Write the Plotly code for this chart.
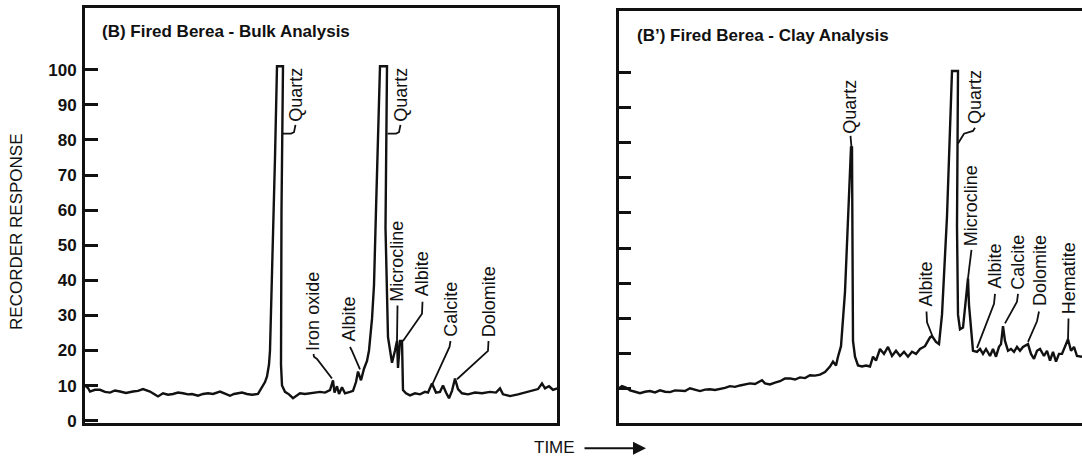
import plotly.graph_objects as go

W, H = 1082, 466

# ---------------- data (time in chart units, response in %) ----------------
bulk_time = [0, 3, 5, 10, 15, 20, 25, 30, 35, 41, 48, 53, 58, 62, 65, 69, 73, 78, 83, 88,
             93, 98, 103, 107, 113, 118, 123, 128, 132, 135, 140, 145, 149, 152, 157, 162,
             167, 173, 177, 180, 182, 184, 185, 187, 188, 190, 192, 198, 196.5, 196, 197,
             200, 204, 208, 211, 215, 220, 225, 230, 235, 240, 245, 248, 249.5, 252, 254,
             257, 260, 265, 268, 271, 273, 276, 279, 282, 284, 287, 289, 291, 295, 302,
             300.5, 303, 307, 310, 312, 313, 315, 317, 318, 321, 325, 330, 335, 340, 343,
             347, 351, 355, 358, 361, 364, 367, 370, 373, 377, 383, 390, 397, 405, 411,
             415, 418, 425, 433, 440, 447, 453, 457, 460, 464, 468, 472]
bulk_resp = [10.0, 9.3, 8.3, 8.8, 8.8, 8.2, 8.0, 8.6, 8.3, 7.9, 8.3, 8.5, 9.0, 8.6, 8.3,
             7.6, 6.9, 7.8, 7.4, 7.6, 8.0, 7.8, 7.5, 7.6, 7.1, 7.6, 7.8, 7.6, 8.0, 8.3, 7.7,
             7.1, 7.6, 7.8, 8.0, 7.6, 7.4, 7.6, 9.8, 11.0, 12.6, 16.0, 20.0, 38.0, 53.0,
             75.0, 101.0, 101.0, 60.0, 16.0, 10.0, 8.2, 7.5, 6.4, 7.0, 7.8, 7.6, 7.8, 8.0,
             8.2, 8.0, 8.7, 11.5, 8.0, 9.8, 7.6, 9.5, 7.8, 8.2, 8.5, 11.0, 14.0, 11.5, 14.8,
             17.0, 20.0, 29.0, 38.6, 60.0, 101.0, 101.0, 55.0, 23.8, 16.5, 20.0, 22.7, 15.0,
             22.7, 22.7, 8.7, 7.8, 7.2, 7.8, 7.5, 8.2, 8.0, 10.6, 8.0, 8.2, 10.0, 8.0, 6.4,
             8.5, 12.0, 9.0, 7.8, 7.5, 8.0, 7.8, 8.2, 8.0, 9.2, 7.5, 7.0, 7.5, 8.0, 8.5, 9.0,
             10.6, 9.2, 9.8, 8.8, 9.2]

clay_time = [0, 3, 7, 11, 16, 21, 26, 31, 36, 41, 46, 51, 56, 61, 66, 71, 76, 81, 86, 91,
             96, 101, 106, 111, 116, 121, 126, 131, 136, 143, 146, 151, 156, 161, 166, 171,
             176, 181, 186, 191, 196, 201, 206, 211, 214, 217, 219, 222, 226, 229, 232, 233,
             234, 236, 239, 243, 247, 251, 254, 257, 261, 265, 269, 273, 277, 281, 285, 289,
             293, 297, 301, 306, 311, 313, 317, 320, 323, 325, 328, 333, 339, 338, 339, 341,
             344, 347, 349, 350, 353, 354, 358, 361, 364, 367, 371, 374, 377, 380, 382, 384,
             386, 389, 392, 395, 398, 401, 404, 409, 412, 415, 418, 421, 425, 428, 431, 434,
             437, 440, 443, 446, 449, 452, 455, 458, 463]
clay_resp = [10.0, 10.6, 10.2, 9.4, 9.0, 8.6, 9.0, 9.2, 8.8, 9.4, 9.0, 8.9, 9.4, 9.4, 9.2,
             10.0, 9.6, 9.2, 9.6, 9.7, 9.5, 9.7, 10.1, 10.6, 10.4, 10.8, 11.0, 11.4, 11.2,
             12.3, 11.4, 11.1, 11.6, 12.0, 12.8, 12.8, 12.5, 13.1, 12.9, 13.7, 13.6, 13.9,
             14.6, 16.2, 17.6, 16.5, 19.0, 22.0, 37.5, 56.0, 78.7, 78.7, 23.5, 19.0, 16.5,
             16.2, 16.5, 16.2, 19.0, 17.9, 21.2, 19.8, 21.8, 19.2, 20.7, 19.2, 20.4, 19.0,
             20.4, 19.8, 21.2, 22.0, 24.5, 24.9, 23.2, 22.6, 31.0, 42.2, 59.0, 100.5, 100.5,
             56.3, 31.0, 26.8, 27.3, 35.7, 41.4, 33.8, 23.5, 20.7, 20.4, 21.2, 19.8, 21.2,
             19.2, 21.2, 19.0, 21.8, 22.6, 27.7, 23.5, 20.7, 21.2, 20.4, 21.8, 20.7, 21.8,
             22.6, 19.8, 18.4, 20.7, 21.2, 19.2, 20.7, 17.9, 20.4, 17.6, 19.8, 19.8, 22.0,
             24.0, 20.7, 21.8, 19.2, 19.0]

y_ticks = [0, 10, 20, 30, 40, 50, 60, 70, 80, 90, 100]

# peak labels: text, label centre (time), label base (response), leader path
bulk_labels = ["Quartz", "Iron oxide", "Albite", "Quartz", "Microcline", "Albite",
               "Calcite", "Dolomite"]
bulk_label_t = [211, 228.5, 264, 316, 312.5, 337, 366, 403.5]
bulk_label_r = [84.9, 19.6, 22.1, 84.9, 33.6, 35.0, 23.5, 23.5]
bulk_leaders = [
    [(210.5, 84.3), (209, 82.2), (206, 81.8), (198, 81.8)],
    [(228.5, 19.0), (229, 18.2), (232, 17.6), (247, 12.0)],
    [(265, 21.0), (267, 19.9), (275, 14.6)],
    [(315.5, 84.3), (314, 82.2), (311, 81.8), (302.5, 81.8)],
    [(312.5, 32.8), (312, 22.7)],
    [(337.5, 33.9), (337, 30.5), (318, 22.7)],
    [(365.5, 22.7), (364.5, 21.0), (347, 10.1)],
    [(403.5, 22.7), (403, 19.9), (372, 11.8)],
]

clay_labels = ["Quartz", "Albite", "Quartz", "Microcline", "Albite", "Calcite",
               "Dolomite", "Hematite"]
clay_label_t = [231, 307.5, 356, 352, 376, 399.5, 421, 450]
clay_label_r = [82.3, 33.0, 85.1, 50.1, 38.0, 37.8, 33.0, 30.8]
clay_leaders = [
    [(231.5, 82.0), (232.5, 78.7)],
    [(307.5, 31.9), (308, 28.8), (313, 25.2)],
    [(356, 84.3), (354, 83.4), (345, 82.6), (339, 79.8)],
    [(352.5, 49.5), (349, 41.4)],
    [(376, 36.9), (375, 34.1), (358, 21.5)],
    [(399, 36.9), (398, 34.7), (386, 28.5)],
    [(420, 31.9), (418, 29.1), (409, 23.2)],
    [(449.5, 29.9), (449, 23.7)],
]

# ---------------- layout geometry ----------------
def px_x(p):
    return p / W

def px_y(p):
    return 1 - p / H

FONT = "Liberation Sans, Arial, sans-serif"
INK = "#111111"

fig = go.Figure()

fig.add_trace(go.Scatter(x=bulk_time, y=bulk_resp, mode="lines",
                         line=dict(color=INK, width=2.4), xaxis="x", yaxis="y",
                         hoverinfo="skip", showlegend=False))
fig.add_trace(go.Scatter(x=clay_time, y=clay_resp, mode="lines",
                         line=dict(color=INK, width=2.4), xaxis="x2", yaxis="y2",
                         hoverinfo="skip", showlegend=False))

def leader_xy(leaders):
    xs, ys = [], []
    for path in leaders:
        for (a, b) in path:
            xs.append(a)
            ys.append(b)
        xs.append(None)
        ys.append(None)
    return xs, ys

lx, ly = leader_xy(bulk_leaders)
fig.add_trace(go.Scatter(x=lx, y=ly, mode="lines", line=dict(color=INK, width=1.8),
                         xaxis="x", yaxis="y", hoverinfo="skip", showlegend=False))
lx, ly = leader_xy(clay_leaders)
fig.add_trace(go.Scatter(x=lx, y=ly, mode="lines", line=dict(color=INK, width=1.8),
                         xaxis="x2", yaxis="y2", hoverinfo="skip", showlegend=False))

annotations = []
for txt, t, r in zip(bulk_labels, bulk_label_t, bulk_label_r):
    annotations.append(dict(text=txt, x=t, y=r, xref="x", yref="y", showarrow=False,
                            textangle=-90, xanchor="center", yanchor="bottom",
                            borderpad=0, font=dict(family=FONT, size=18, color=INK)))
for txt, t, r in zip(clay_labels, clay_label_t, clay_label_r):
    annotations.append(dict(text=txt, x=t, y=r, xref="x2", yref="y2", showarrow=False,
                            textangle=-90, xanchor="center", yanchor="bottom",
                            borderpad=0, font=dict(family=FONT, size=18, color=INK)))

# panel titles
annotations.append(dict(text="(B) Fired Berea - Bulk Analysis", x=px_x(100), y=px_y(32),
                        xref="paper", yref="paper", showarrow=False, xanchor="left",
                        yanchor="middle", font=dict(family=FONT, size=17, color=INK,
                                                    weight="bold")))
annotations.append(dict(text="(B\u2019) Fired Berea - Clay Analysis", x=px_x(635), y=px_y(36),
                        xref="paper", yref="paper", showarrow=False, xanchor="left",
                        yanchor="middle", font=dict(family=FONT, size=17, color=INK,
                                                    weight="bold")))
# axis titles
annotations.append(dict(text="RECORDER RESPONSE", x=px_x(17), y=px_y(236), xref="paper",
                        yref="paper", showarrow=False, textangle=-90, xanchor="center",
                        yanchor="middle", font=dict(family=FONT, size=17, color=INK)))
annotations.append(dict(text="TIME", x=px_x(532), y=px_y(455), xref="paper", yref="paper",
                        showarrow=False, xanchor="left", yanchor="middle",
                        font=dict(family=FONT, size=17, color=INK)))
annotations.append(dict(text="", x=px_x(646), y=px_y(456), xref="paper", yref="paper",
                        showarrow=True, ax=-63, ay=0, axref="pixel", ayref="pixel",
                        arrowhead=2, arrowsize=1.3, arrowwidth=2, arrowcolor=INK))

axis_common = dict(showgrid=False, zeroline=False, showline=True, linecolor=INK,
                   linewidth=3)

fig.update_layout(
    width=W, height=H,
    margin=dict(l=0, r=0, t=0, b=0),
    paper_bgcolor="white", plot_bgcolor="white",
    showlegend=False,
    annotations=annotations,
    xaxis=dict(domain=[px_x(85), px_x(557)], range=[0, 472], mirror=True,
               showticklabels=False, ticks="", **axis_common),
    yaxis=dict(domain=[px_y(430), px_y(8)], range=[-0.56, 117.65], mirror=True,
               tickvals=y_ticks, ticks="inside", ticklen=13, tickwidth=2.5,
               tickcolor=INK, ticklabelstandoff=2,
               tickfont=dict(family=FONT, size=17, color=INK, weight="bold"),
               **axis_common),
    xaxis2=dict(domain=[px_x(619), 1.0], range=[0, 463], mirror=True, anchor="y2",
                showticklabels=False, ticks="", **axis_common),
    yaxis2=dict(domain=[px_y(430), px_y(11)], range=[0.2, 117.66], anchor="x2",
                tickvals=y_ticks, ticks="inside", ticklen=12, tickwidth=2.5,
                tickcolor=INK, showticklabels=False, **axis_common),
)

fig.write_html("out.html", config={"displayModeBar": False})
